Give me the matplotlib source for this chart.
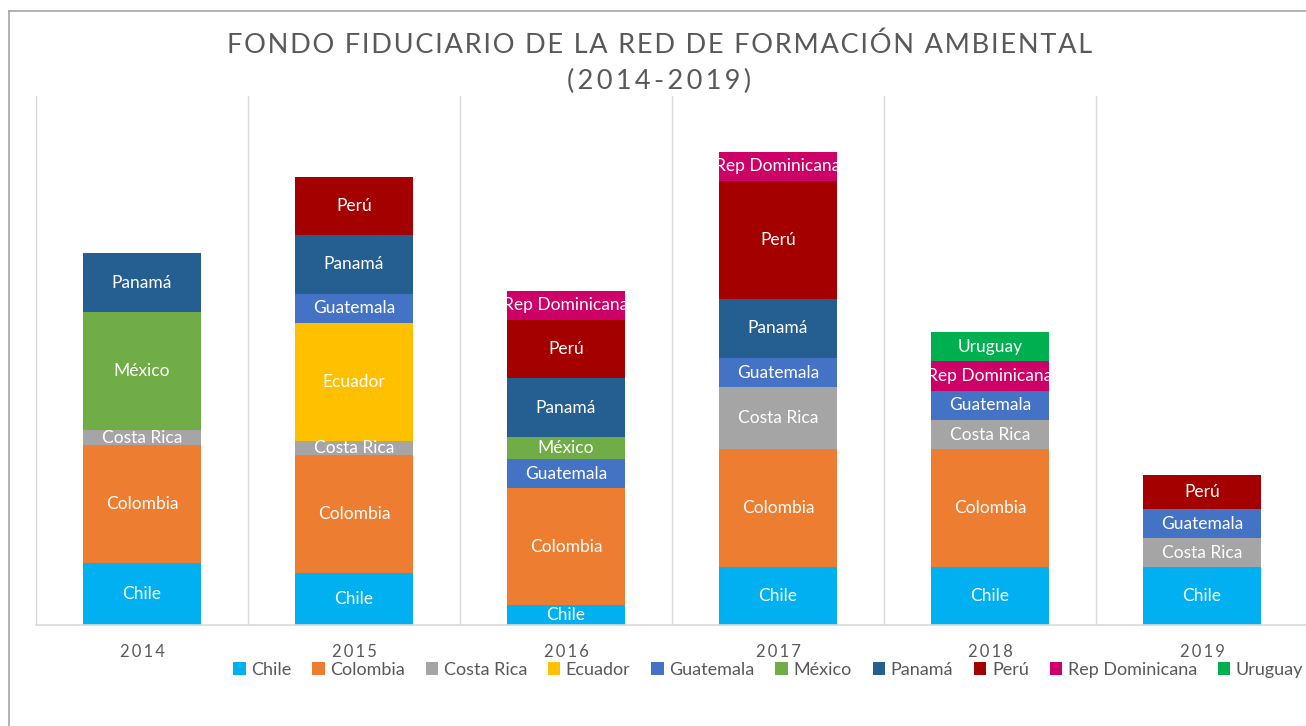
import numpy as np
import matplotlib
matplotlib.use("Agg")
import matplotlib.pyplot as plt

plt.rcParams['font.family'] = ['Lato', 'DejaVu Sans']

years = ['2014', '2015', '2016', '2017', '2018', '2019']
countries = ['Chile', 'Colombia', 'Costa Rica', 'Ecuador', 'Guatemala',
             'México', 'Panamá', 'Perú', 'Rep Dominicana', 'Uruguay']
colors = ['#00B0F0', '#ED7D31', '#A5A5A5', '#FFC000', '#4472C4',
          '#70AD47', '#255E91', '#A50000', '#CC0066', '#00B050']

# estimated contributions per year (same order as years)
chile = [10.5, 8.8, 3.4, 9.8, 9.8, 9.8]
colombia = [20.0, 20.0, 19.8, 20.0, 20.0, 0]
costa_rica = [2.5, 2.4, 0, 10.5, 5.0, 4.9]
ecuador = [0, 20.0, 0, 0, 0, 0]
guatemala = [0, 5.0, 4.9, 5.0, 4.9, 4.9]
mexico = [20.0, 0, 3.7, 0, 0, 0]
panama = [10.0, 10.0, 10.0, 10.0, 0, 0]
peru = [0, 9.8, 10.0, 20.0, 0, 5.9]
rep_dom = [0, 0, 4.9, 4.9, 5.0, 0]
uruguay = [0, 0, 0, 0, 4.9, 0]

series = [chile, colombia, costa_rica, ecuador, guatemala,
          mexico, panama, peru, rep_dom, uruguay]


def spaced(s, sp='\u200a'):
    # fake letter spacing
    return sp.join(s)


fig = plt.figure(figsize=(13.06, 7.26), dpi=100)
ax = fig.add_axes([36/1306, 1-625/726, 1272/1306, 529/726])

x = np.arange(len(years))
bottom = np.zeros(len(years))
for name, vals, col in zip(countries, series, colors):
    vals = np.array(vals)
    bars = ax.bar(x, vals, 0.56, bottom=bottom, color=col, label=name, zorder=2)
    for xi, b, v, rect in zip(x, bottom, vals, bars):
        if v > 0:
            t = ax.text(xi, b + v/2, name, ha='center', va='center',
                        color='white', fontsize=12.5, zorder=3)
            t.set_clip_path(rect)
    bottom += vals

ax.set_xlim(-0.5, 5.5)
ax.set_ylim(0, 89.7)
ax.set_yticks([])
ax.set_xticks(x)
ax.set_xticklabels([spaced(y, '\u2009') for y in years], fontsize=12,
                   color='#595959')
ax.tick_params(axis='x', length=0, pad=14)
for xv in np.arange(-0.5, 6, 1):
    ax.axvline(xv, color='#D9D9D9', lw=1, zorder=1)
for s in ['top', 'right', 'left']:
    ax.spines[s].set_visible(False)
ax.spines['bottom'].set_color('#D9D9D9')
ax.spines['bottom'].set_linewidth(1.2)

fig.text(0.505, 1-45/726,
         spaced('FONDO FIDUCIARIO DE LA RED DE FORMACIÓN AMBIENTAL'),
         ha='center', va='center', fontsize=19.5, color='#595959')
fig.text(0.505, 1-81/726, spaced('(2014-2019)', '\u2009'), ha='center',
         va='center', fontsize=19.5, color='#595959')

fig.legend(loc='center', bbox_to_anchor=(768/1306, 1-670/726), ncol=10,
           frameon=False, fontsize=13, handlelength=0.7, handleheight=0.7,
           handletextpad=0.3, columnspacing=1.15, labelcolor='#595959')

# outer chart border (left and top only visible)
fig.add_artist(plt.Line2D([8.5/1306, 8.5/1306], [0, 1-10.5/726],
                          color='#A6A6A6', lw=1.2, transform=fig.transFigure))
fig.add_artist(plt.Line2D([8.5/1306, 1], [1-10.5/726, 1-10.5/726],
                          color='#A6A6A6', lw=1.2, transform=fig.transFigure))

fig.savefig('out.png', dpi=100)
